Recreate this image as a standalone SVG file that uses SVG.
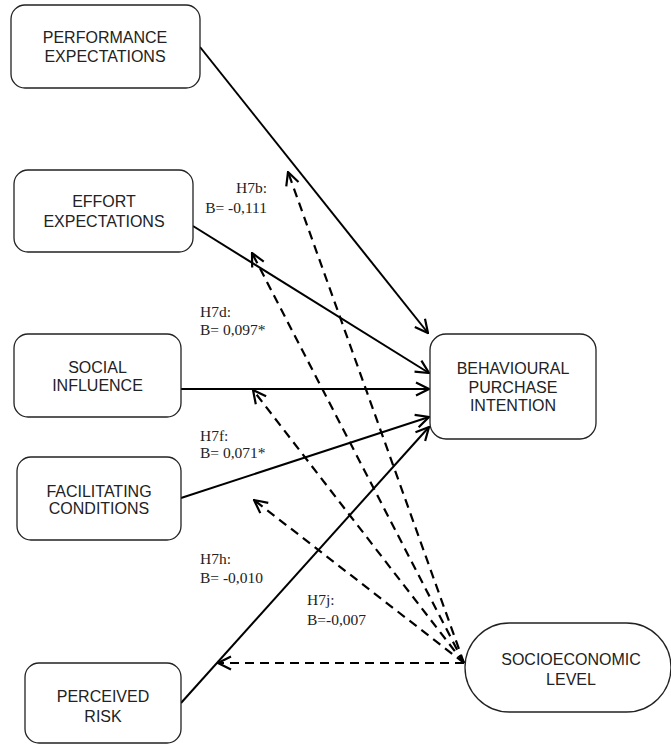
<svg xmlns="http://www.w3.org/2000/svg" width="671" height="745" viewBox="0 0 671 745">
<style>
.box{fill:#fff;stroke:#222;stroke-width:1.3}
.t{font-family:"Liberation Sans",Arial,sans-serif;font-size:16px;fill:#222;text-anchor:middle}
.lab{font-family:"Liberation Serif","Times New Roman",serif;font-size:15.5px;fill:#222}
.solid{stroke:#000;stroke-width:2;fill:none}
.dash{stroke:#000;stroke-width:2.2;fill:none;stroke-dasharray:9 6}
</style>
<defs>
<marker id="ah" viewBox="0 0 16 16" refX="15" refY="8" markerWidth="16" markerHeight="16" orient="auto" markerUnits="userSpaceOnUse">
<path d="M2,1.5 L15,8 L2,14.5" fill="none" stroke="#000" stroke-width="2.2"/>
</marker>
</defs>
<rect width="671" height="745" fill="#fff"/>
<g id="connectors">
<line class="solid" x1="200" y1="47" x2="428" y2="333" marker-end="url(#ah)"/>
<line class="solid" x1="193" y1="226" x2="429" y2="373" marker-end="url(#ah)"/>
<line class="solid" x1="181" y1="389" x2="429" y2="389" marker-end="url(#ah)"/>
<line class="solid" x1="181" y1="498" x2="429" y2="417" marker-end="url(#ah)"/>
<line class="solid" x1="181" y1="703" x2="429" y2="427" marker-end="url(#ah)"/>
<line class="dash" x1="464" y1="663" x2="288" y2="172" marker-end="url(#ah)"/>
<line class="dash" x1="464" y1="663" x2="252" y2="253" marker-end="url(#ah)"/>
<line class="dash" x1="464" y1="663" x2="253" y2="390" marker-end="url(#ah)"/>
<line class="dash" x1="464" y1="663" x2="254" y2="500" marker-end="url(#ah)"/>
<line class="dash" x1="464" y1="663" x2="218" y2="663" marker-end="url(#ah)"/>
</g>
<g id="labels">
<text class="lab" x="267" y="193" text-anchor="end">H7b:</text>
<text class="lab" x="267" y="213" text-anchor="end">B= -0,111</text>
<text class="lab" x="200" y="317">H7d:</text>
<text class="lab" x="200" y="335">B= 0,097*</text>
<text class="lab" x="200" y="441">H7f:</text>
<text class="lab" x="200" y="458">B= 0,071*</text>
<text class="lab" x="200" y="564">H7h:</text>
<text class="lab" x="200" y="583">B= -0,010</text>
<text class="lab" x="307" y="605">H7j:</text>
<text class="lab" x="307" y="625">B=-0,007</text>
</g>
<g id="performance">
<rect class="box" x="11" y="5" width="189" height="83" rx="14"/>
<text class="t" x="105" y="43">PERFORMANCE</text>
<text class="t" x="105" y="62">EXPECTATIONS</text>
</g>
<g id="effort">
<rect class="box" x="14" y="170" width="179" height="82" rx="14"/>
<text class="t" x="104" y="207">EFFORT</text>
<text class="t" x="104" y="227">EXPECTATIONS</text>
</g>
<g id="social">
<rect class="box" x="14" y="334" width="167" height="83" rx="14"/>
<text class="t" x="97.5" y="373">SOCIAL</text>
<text class="t" x="97.5" y="391">INFLUENCE</text>
</g>
<g id="facilitating">
<rect class="box" x="17" y="457" width="164" height="83" rx="14"/>
<text class="t" x="99" y="497">FACILITATING</text>
<text class="t" x="99" y="514">CONDITIONS</text>
</g>
<g id="perceived">
<rect class="box" x="25" y="663" width="156" height="80" rx="14"/>
<text class="t" x="103" y="702">PERCEIVED</text>
<text class="t" x="103" y="722">RISK</text>
</g>
<g id="behavioural">
<rect class="box" x="430" y="334" width="166" height="105" rx="16"/>
<text class="t" x="513" y="374">BEHAVIOURAL</text>
<text class="t" x="513" y="393">PURCHASE</text>
<text class="t" x="513" y="411">INTENTION</text>
</g>
<g id="socioeconomic">
<rect class="box" x="465" y="623" width="206" height="89" rx="44.5"/>
<text class="t" x="571" y="665">SOCIOECONOMIC</text>
<text class="t" x="571" y="685">LEVEL</text>
</g>
</svg>
